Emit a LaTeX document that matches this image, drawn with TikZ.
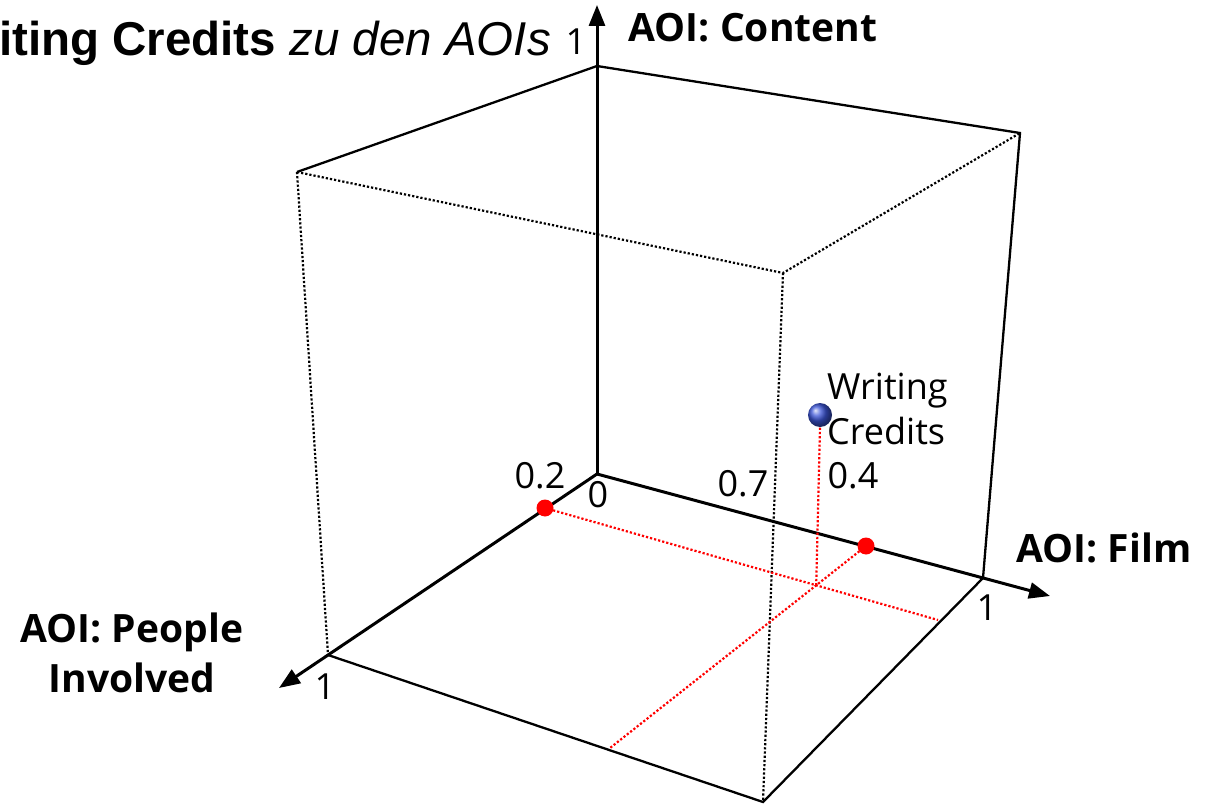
\documentclass[tikz,border=0pt]{standalone}
\usepackage{fontspec}
\setmainfont{Open Sans}
\newfontfamily\titlefont{Liberation Sans}
\usetikzlibrary{arrows.meta}
\definecolor{ballblue}{RGB}{60,85,215}
\tikzset{
  axisline/.style={line width=3pt,-{Triangle[length=21pt,width=16pt]}},
  edge/.style={line width=2.3pt},
  hidden/.style={line width=2.2pt,dotted},
  redline/.style={line width=2.2pt,dotted,red},
  reddot/.style={circle,fill=red,inner sep=0pt,minimum size=17pt},
  lab/.style={font=\fontsize{36}{46}\selectfont,inner sep=0pt},
  axlab/.style={font=\fontsize{39}{50}\selectfont\bfseries,inner sep=0pt,align=center},
}
\begin{document}
\begin{tikzpicture}[x=1pt,y=-1pt]
\useasboundingbox (0,0) rectangle (1213,805);
% cube vertices
\coordinate (O) at (597,474);
\coordinate (T) at (597,66);
\coordinate (TR) at (1020,133);
\coordinate (F1) at (983,578);
\coordinate (TL) at (297,172);
\coordinate (P1) at (328,655);
\coordinate (FT) at (783,273);
\coordinate (FB) at (763,802);
\coordinate (ztip) at (597,5);
\coordinate (xtip) at (1050,596);
\coordinate (ytip) at (279,688);
% hidden edges
\draw[hidden] (TL) -- (FT) -- (TR);
\draw[hidden] (TL) -- (P1);
\draw[hidden] (FT) -- (FB);
% solid edges
\draw[edge] (TL) -- (T) -- (TR) -- (F1) -- (FB) -- (P1);
% axes
\draw[axisline] (O) -- (ztip);
\draw[axisline] (O) -- (xtip);
\draw[axisline] (O) -- (ytip);
% red projections
\coordinate (ra) at (545,508);
\coordinate (rb) at (866,546);
\coordinate (ea) at (938,620);
\coordinate (eb) at (610,748);
\coordinate (X) at (intersection of ra--ea and rb--eb);
\node[circle,inner sep=0pt,minimum size=24pt,shading=ball,ball color=ballblue] (ball) at (820,415) {};
\draw[redline] (ra) -- (ea);
\draw[redline] (rb) -- (eb);
\draw[redline] (X) -- (ball.south);
\node[reddot] (da) at (ra) {};
\node[reddot] (db) at (rb) {};
% labels
\node[anchor=base east,inner sep=0pt,font=\titlefont\fontsize{47.5}{52}\selectfont] (title) at (551,56) {\textbf{Writing Credits} \textit{zu den AOIs}};
\node[lab] (one1) at (576,42) {1};
\node[axlab] (lz) at (753,28) {AOI: Content};
\node[axlab] (lx) at (1104,548) {AOI: Film};
\node[axlab] (ly) at (132,653) {AOI: People\\Involved};
\node[lab] (one2) at (987,608) {1};
\node[lab] (one3) at (325,687) {1};
\node[lab] (v02) at (540,476) {0.2};
\node[lab] (v0) at (598,495) {0};
\node[lab] (v07) at (743,484) {0.7};
\node[lab] (v04) at (853,476) {0.4};
\node[lab,anchor=west,align=left,font=\fontsize{36}{45}\selectfont] (wc) at (827,409) {Writing\\Credits};
\end{tikzpicture}
\end{document}
